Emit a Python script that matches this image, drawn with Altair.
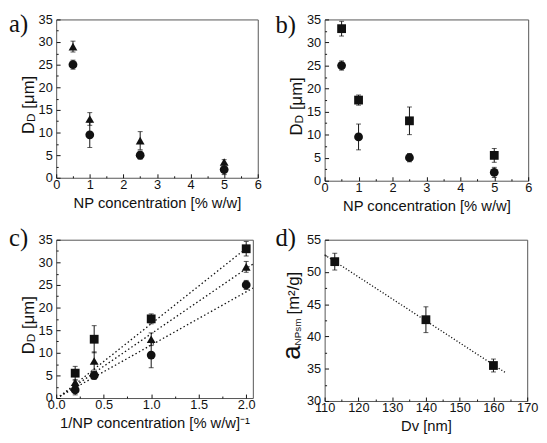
import altair as alt
import pandas as pd

# ---------------- data ----------------
np_conc = [0.5, 1.0, 2.5, 5.0]          # NP concentration [% w/w]
inv_conc = [2.0, 1.0, 0.4, 0.2]         # 1 / NP concentration
circle_dd = [25.0, 9.5, 5.0, 1.8]
circle_err = [1.0, 2.8, 0.9, 1.1]
triangle_dd = [29.0, 13.0, 8.2, 3.5]
triangle_err = [1.2, 1.4, 2.0, 0.5]
square_dd = [33.0, 17.5, 13.0, 5.5]
square_err = [1.6, 1.1, 3.0, 1.5]

# dotted linear fits in panel c (end points)
fit_series = ["circle", "triangle", "square"]
fit_x0 = [0.04, 0.04, 0.04]
fit_y0 = [0.4, 0.4, 0.4]
fit_x1 = [2.07, 2.07, 2.03]
fit_y1 = [24.3, 29.6, 33.6]

# panel d
dv_nm = [113.0, 140.0, 160.0]
a_nps = [51.6, 42.6, 35.5]
a_nps_err = [1.3, 2.0, 1.0]
dfit_x = [110.0, 163.4]
dfit_y = [52.65, 34.45]

# tick values
ab_x_major = [0, 1, 2, 3, 4, 5, 6]
ab_x_all = [0, 0.5, 1, 1.5, 2, 2.5, 3, 3.5, 4, 4.5, 5, 5.5, 6]
dd_y_major = [0, 5, 10, 15, 20, 25, 30, 35]
dd_y_all = [0, 2.5, 5, 7.5, 10, 12.5, 15, 17.5, 20, 22.5, 25, 27.5, 30, 32.5, 35]
c_x_major = [0, 0.5, 1.0, 1.5, 2.0]
c_x_all = [0, 0.25, 0.5, 0.75, 1.0, 1.25, 1.5, 1.75, 2.0]
d_x_major = [110, 120, 130, 140, 150, 160, 170]
d_x_all = [110, 115, 120, 125, 130, 135, 140, 145, 150, 155, 160, 165, 170]
d_y_major = [30, 35, 40, 45, 50, 55]
d_y_all = [30, 32.5, 35, 37.5, 40, 42.5, 45, 47.5, 50, 52.5, 55]

FONT = "Liberation Sans"
SERIF = "Liberation Serif"
INK = "#111111"
SHAPE_DOM = ["circle", "triangle", "square"]
SHAPE_RNG = ["circle", "triangle-up", "square"]


def points_df(xs, series):
    rows = []
    for name, ys, errs in series:
        for x, y, e in zip(xs, ys, errs):
            rows.append({"x": x, "y": y, "lo": y - e, "hi": y + e, "s": name})
    return pd.DataFrame(rows)


def text_layer(text, x, y, size, font=FONT, angle=0, align="left", baseline="alphabetic"):
    kw = dict(align=align, baseline=baseline, font=font, fontSize=size, color=INK)
    if angle:
        kw["angle"] = angle
    return alt.Chart(pd.DataFrame({"t": [text]})).mark_text(**kw).encode(
        text="t:N", x=alt.value(x), y=alt.value(y))


def rot_title(pieces, base_x, start_y):
    out = []
    y = start_y
    for text, size, dx, adv in pieces:
        out.append(text_layer(text, base_x + dx, y, size, angle=270))
        y -= adv
    return out


def panel(pts, W, H, xdom, ydom, xmajor, xall, ymajor, yall, xtest, ytest,
          xfmt, xtitle, label, lab_x, lab_y, title_layers, lines=None, dash=(1.5, 2.5)):
    xs = alt.Scale(domain=xdom, nice=False, zero=False)
    ys = alt.Scale(domain=ydom, nice=False, zero=False)
    base = alt.Chart(pts)
    X0 = alt.X("x:Q", scale=xs, axis=None)

    tick_ax = dict(labels=False, domain=False, grid=False, tickColor=INK,
                   tickWidth=1, title=None)
    ticks_layer = base.mark_point(opacity=0).encode(
        x=alt.X("x:Q", scale=xs, axis=alt.Axis(
            orient="top", offset=-H, values=xall,
            tickSize={"condition": {"test": xtest, "value": 4}, "value": 2}, **tick_ax)),
        y=alt.Y("y:Q", scale=ys, axis=alt.Axis(
            orient="right", offset=-W, values=yall,
            tickSize={"condition": {"test": ytest, "value": 4}, "value": 2}, **tick_ax)),
    )
    layers = [ticks_layer]
    if lines is not None:
        layers.append(alt.Chart(lines).mark_line(
            color=INK, strokeWidth=1.3, strokeDash=list(dash)).encode(
            x=alt.X("x:Q", scale=xs, axis=None),
            y=alt.Y("y:Q", scale=ys, axis=None),
            detail="g:N"))
    layers.append(base.mark_rule(color=INK, strokeWidth=1).encode(
        x=X0, y=alt.Y("lo:Q", scale=ys, axis=None), y2="hi:Q"))
    for f in ["lo", "hi"]:
        layers.append(base.mark_tick(orient="horizontal", size=5, thickness=1, color=INK).encode(
            x=X0, y=alt.Y(f + ":Q", scale=ys, axis=None)))
    layers.append(base.mark_point(filled=True, opacity=1, color=INK, size=80).encode(
        x=alt.X("x:Q", scale=xs, axis=alt.Axis(
            orient="bottom", values=xmajor, ticks=False, domain=False, grid=False,
            labelFlush=False, labelOverlap=False, labelPadding=1, format=xfmt,
            title=xtitle, titlePadding=4)),
        y=alt.Y("y:Q", scale=ys, axis=alt.Axis(
            orient="left", values=ymajor, ticks=False, domain=False, grid=False,
            labelFlush=False, labelOverlap=False, labelPadding=4, format="d", title=None)),
        shape=alt.Shape("s:N", scale=alt.Scale(domain=SHAPE_DOM, range=SHAPE_RNG), legend=None),
    ))
    layers.append(text_layer(label, lab_x, lab_y, 25, font=SERIF))
    layers.extend(title_layers)
    return alt.layer(*layers).properties(width=W, height=H).resolve_axis(
        x="independent", y="independent")


df_a = points_df(np_conc, [("circle", circle_dd, circle_err),
                           ("triangle", triangle_dd, triangle_err)])
df_b = points_df(np_conc, [("circle", circle_dd, circle_err),
                           ("square", square_dd, square_err)])
df_c = points_df(inv_conc, [("circle", circle_dd, circle_err),
                            ("triangle", triangle_dd, triangle_err),
                            ("square", square_dd, square_err)])
df_d = points_df(dv_nm, [("square", a_nps, a_nps_err)])

lines_c = pd.DataFrame({
    "x": fit_x0 + fit_x1,
    "y": fit_y0 + fit_y1,
    "g": fit_series + fit_series,
})
lines_d = pd.DataFrame({"x": dfit_x, "y": dfit_y, "g": ["d", "d"]})


def dd_title(H):
    start = H / 2 + 5 + 31
    return rot_title([("D", 17, 0, 12.3), ("D", 12, 1.5, 13.5), ("[μm]", 17, 0, 38)], -23, start)


WA, HA = 205, 161
WC, HC = 200, 161
WB, HB = 207, 164
WD, HD = 206, 164

pa = panel(df_a, WA, HA, [0, 6], [0, 35], ab_x_major, ab_x_all, dd_y_major, dd_y_all,
           "datum.value % 1 === 0", "datum.value % 5 === 0", "d",
           "NP concentration [% w/w]", "a)", -48, 13, dd_title(HA))
pb = panel(df_b, WB, HB, [0, 6], [0, 35], ab_x_major, ab_x_all, dd_y_major, dd_y_all,
           "datum.value % 1 === 0", "datum.value % 5 === 0", "d",
           "NP concentration [% w/w]", "b)", -50, 14, dd_title(HB))
pc = panel(df_c, WC, HC, [0, 2.07], [0, 35], c_x_major, c_x_all, dd_y_major, dd_y_all,
           "datum.value % 0.5 === 0", "datum.value % 5 === 0", ".1f",
           "1/NP concentration [% w/w]⁻¹", "c)", -48, 6, dd_title(HC), lines=lines_c)
d_title = rot_title([("a", 26, 0, 14.5), ("NPsm", 10, 1.0, 31.5), ("[m²/g]", 17, -1.0, 48)],
                    -25, 122)
pd_ = panel(df_d, WD, HD, [110, 170], [30, 55], d_x_major, d_x_all, d_y_major, d_y_all,
            "datum.value % 10 === 0", "datum.value % 5 === 0", "d",
            "Dv [nm]", "d)", -50, 6, d_title, lines=lines_d, dash=(1.2, 2.0))

chart = alt.concat(
    pa, pb, pc, pd_, columns=2,
    spacing=alt.RowColnumber(row=60, column=68), bounds="flush"
).properties(
    padding=0, background="white"
).configure_axis(
    labelFont=FONT, titleFont=FONT, labelFontSize=13, titleFontSize=15,
    titleFontWeight="normal", labelColor=INK, titleColor=INK
).configure_view(stroke="#555555", strokeWidth=1)

chart.save("out.html", embed_options={"renderer": "svg", "actions": False})
